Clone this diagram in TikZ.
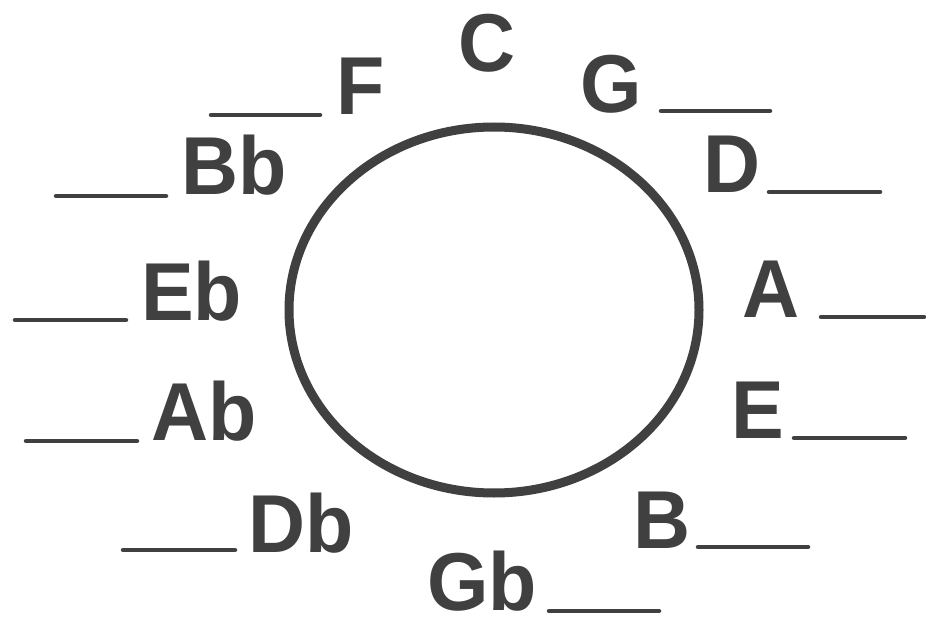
\documentclass[tikz,border=0pt]{standalone}
\usepackage{fontspec}
\setmainfont{Liberation Sans}
\definecolor{ink}{HTML}{404040}
\newcommand{\notelbl}[1]{\scalebox{1}[1.04]{\fontsize{79}{82}\selectfont\bfseries #1}}
\tikzset{
  note/.style={inner sep=0pt, anchor=base west, text=ink},
  blank/.style={draw=ink, line width=4.5pt, line cap=round},
  wheel/.style={draw=ink, line width=9pt}
}
\begin{document}
\begin{tikzpicture}[x=1pt,y={(0pt,-1pt)}]
\useasboundingbox (0,0) rectangle (926,620);
\fill[white] (0,0) rectangle (926,620);
\draw[wheel] (494,310) ellipse [x radius=205, y radius=183];
% labels
\node[note] (C)  at (458,72)  {\notelbl{C}};
\node[note] (F)  at (336,115) {\notelbl{F}};
\node[note] (G)  at (580,113) {\notelbl{G}};
\node[note] (Bb) at (181,195) {\notelbl{Bb}};
\node[note] (D)  at (703,193) {\notelbl{D}};
\node[note] (Eb) at (141,320) {\notelbl{Eb}};
\node[note] (A)  at (742,317) {\notelbl{A}};
\node[note] (Ab) at (151,440) {\notelbl{Ab}};
\node[note] (E)  at (731,438) {\notelbl{E}};
\node[note] (Db) at (248,552) {\notelbl{Db}};
\node[note] (B)  at (633,548) {\notelbl{B}};
\node[note] (Gb) at (427,610) {\notelbl{Gb}};
% blanks
\coordinate (f1) at (211,115);  \coordinate (f2) at (320,115);
\coordinate (g1) at (661,111);  \coordinate (g2) at (770,111);
\coordinate (bb1) at (56,196);  \coordinate (bb2) at (166,196);
\coordinate (d1) at (769,192);  \coordinate (d2) at (880,192);
\coordinate (eb1) at (15,320);  \coordinate (eb2) at (126,320);
\coordinate (a1) at (821,317);  \coordinate (a2) at (924,317);
\coordinate (ab1) at (26,441);  \coordinate (ab2) at (137,441);
\coordinate (e1) at (794,438);  \coordinate (e2) at (905,438);
\coordinate (db1) at (123,550); \coordinate (db2) at (235,550);
\coordinate (b1) at (698,547);  \coordinate (b2) at (808,547);
\coordinate (gb1) at (549,611); \coordinate (gb2) at (659,611);
\foreach \p in {f,g,bb,d,eb,a,ab,e,db,b,gb} \draw[blank] (\p1) -- (\p2);
\end{tikzpicture}
\end{document}
